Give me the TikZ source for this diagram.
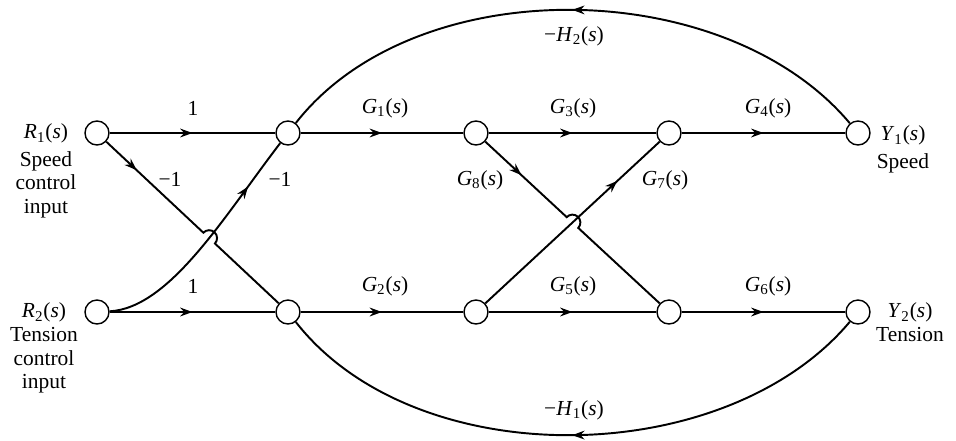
\documentclass[tikz,border=0pt]{standalone}
\usepackage{fontspec}
\setmainfont{Liberation Serif}
\usetikzlibrary{calc, positioning, arrows.meta, decorations.markings, intersections}
\newcommand{\tfn}[2]{\textit{#1}\textsubscript{#2}(\textit{s})}

\begin{document}
\begin{tikzpicture}[
  x=0.02cm, y=0.02cm,
  nd/.style={circle, draw, line width=0.8pt, fill=white, minimum size=0.48cm, inner sep=0pt},
  lbl/.style={font=\fontsize{12.2}{13.4}\selectfont, inner sep=1pt, align=center},
  br/.style={line width=1.1pt},
  arr/.style={postaction={decorate}, decoration={markings,
      mark=at position #1 with {\arrow{Stealth[length=7pt,width=5pt]}}}},
  arr/.default=0.5,
]
\useasboundingbox (0,0) rectangle (956,-440);

% nodes, speed loop on top, tension loop below
\node[nd] (r1) at (97,-133) {};
\node[nd] (a1) at (288,-133) {};
\node[nd] (b1) at (476,-133) {};
\node[nd] (c1) at (669,-133) {};
\node[nd] (y1) at (858,-133) {};

\node[nd] (r2) at (97,-312) {};
\node[nd] (a2) at (288,-312) {};
\node[nd] (b2) at (476,-312) {};
\node[nd] (c2) at (669,-312) {};
\node[nd] (y2) at (858,-312) {};

% straight branches
\draw[br, arr] (r1) -- (a1);
\draw[br, arr] (a1) -- (b1);
\draw[br, arr] (b1) -- (c1);
\draw[br, arr] (c1) -- (y1);
\draw[br, arr] (r2) -- (a2);
\draw[br, arr] (a2) -- (b2);
\draw[br, arr] (b2) -- (c2);
\draw[br, arr] (c2) -- (y2);

% feedback
\draw[br, arr] (y1) to[out=130, in=52, looseness=0.9] (a1);
\draw[br, arr] (y2) to[out=-130, in=-52, looseness=0.9] (a2);

% left cross-coupling with hop
\path[name path=crv] (r2) .. controls (170,-308) and (225,-215) .. (a1);
\path[name path=dgl] (r1) -- (a2);
\path[name intersections={of=crv and dgl, by=xa}];
\draw[br, arr=0.78] (r2) .. controls (170,-308) and (225,-215) .. (a1);
\draw[br, arr=0.17] (r1) -- ($(xa)!4.5pt!(r1)$)
  arc[start angle=136.9, end angle=-43.1, radius=4.5pt] -- (a2);

% middle cross-coupling with hop
\coordinate (xb) at ($(b1)!0.5!(c2)$);
\draw[br, arr=0.2] (b1) -- ($(xb)!4.5pt!(b1)$)
  arc[start angle=136.9, end angle=-43.1, radius=4.5pt] -- (c2);
\draw[br, arr=0.76] (b2) -- (c1);

% gains
\node[lbl] (g11) at (193,-108) {1};
\node[lbl] (g1) at (385,-108) {\tfn{G}{1}};
\node[lbl] (g3) at (573,-108) {\tfn{G}{3}};
\node[lbl] (g4) at (768,-108) {\tfn{G}{4}};
\node[lbl] (g22) at (193,-286) {1};
\node[lbl] (g2) at (385,-286) {\tfn{G}{2}};
\node[lbl] (g5) at (573,-286) {\tfn{G}{5}};
\node[lbl] (g6) at (768,-286) {\tfn{G}{6}};
\node[lbl] (g12) at (170,-179) {−1};
\node[lbl] (g21) at (280,-179) {−1};
\node[lbl] (g8) at (480,-180) {\tfn{G}{8}};
\node[lbl] (g7) at (665,-180) {\tfn{G}{7}};
\node[lbl] (h2) at (574,-36) {−\tfn{H}{2}};
\node[lbl] (h1) at (574,-410) {−\tfn{H}{1}};

% inputs and outputs
\node[lbl, anchor=north] (in1) at (46,-122) {\tfn{R}{1}\\[2pt]Speed\\control\\input};
\node[lbl, anchor=north] (in2) at (44,-301) {\tfn{R}{2}\\Tension\\control\\input};
\node[lbl, anchor=north] (out1) at (903,-124) {\tfn{Y}{1}\\[2pt]Speed};
\node[lbl, anchor=north] (out2) at (910,-301) {\tfn{Y}{2}\\Tension};

\end{tikzpicture}
\end{document}
